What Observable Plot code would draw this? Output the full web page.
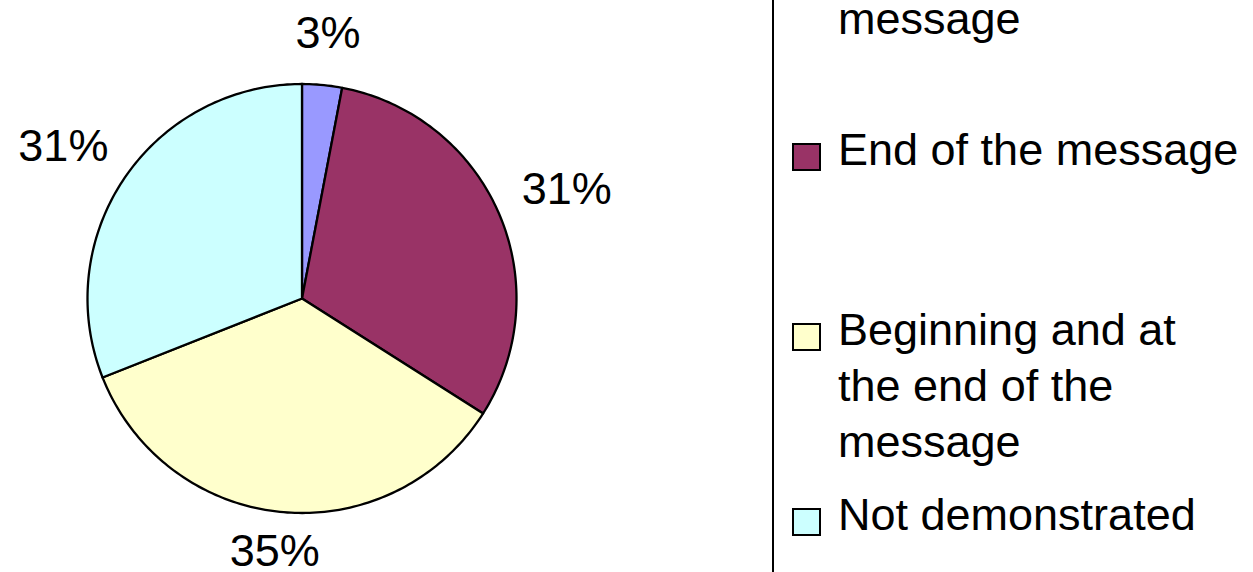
<!DOCTYPE html>
<html>
<head>
<meta charset="utf-8">
<script src="https://cdn.jsdelivr.net/npm/d3@7"></script>
<script src="https://cdn.jsdelivr.net/npm/@observablehq/plot@0.6"></script>
<style>
  html, body { margin: 0; padding: 0; background: #fff; }
  #wrap { display: flex; width: 1253px; height: 572px; overflow: hidden; font-family: "Liberation Sans", Arial, sans-serif; }
  #chart { width: 772px; height: 572px; flex: none; }
  #legend { position: relative; flex: none; width: 479px; height: 572px; border-left: 2px solid #000; overflow: hidden; }
  .sw { position: absolute; left: 18px; width: 29px; height: 28px; box-sizing: border-box; border: 2px solid #000; }
  .lt { position: absolute; left: 64px; width: 408px; font-size: 45px; line-height: 56px; color: #000; white-space: normal; }
</style>
</head>
<body>
<div id="wrap"><div id="chart"></div><div id="legend"></div></div>
<script>
// ---- data ----
const categories = ["Beginning of the message", "End of the message", "Beginning and at the end of the message", "Not demonstrated"];
const values = [3, 31, 35, 31];
const colors = ["#9999FF", "#993366", "#FFFFCC", "#CCFFFF"];

// ---- layout ----
const FONT = 45;
const R_PX = 214.5;
const CX = 301.5, CY = 298;
const legendBaselines = [35 - 56, 166, 346, 531]; // baseline of first line of each entry

// pie geometry from d3.pie (clockwise from 12 o'clock)
const arcs = d3.pie().sort(null).value(d => d.value)(categories.map((name, i) => ({name, value: values[i]})));
const slicePts = [];
for (const a of arcs) {
  const name = a.data.name;
  slicePts.push({name, x: 0, y: 0});
  const n = Math.max(2, Math.ceil((a.endAngle - a.startAngle) / (Math.PI / 180)));
  for (let k = 0; k <= n; k++) {
    const t = a.startAngle + (a.endAngle - a.startAngle) * k / n;
    slicePts.push({name, x: Math.sin(t), y: Math.cos(t)});
  }
}

// label positions (outside end)
const ctx = document.createElement("canvas").getContext("2d");
ctx.font = `${FONT}px "Liberation Sans", Arial, sans-serif`;
const GAP = 29, CAP = 33;
const labels = arcs.map(a => {
  const text = `${a.data.value}%`;
  const m = (a.startAngle + a.endAngle) / 2;
  const ux = Math.sin(m), uy = Math.cos(m);
  const w = ctx.measureText(text).width;
  const px = (R_PX + GAP) * ux + (w / 2) * ux;
  const py = (R_PX + GAP) * uy + (CAP / 2) * uy;
  return {text, x: px / R_PX, y: py / R_PX};
});

const plot = Plot.plot({
  width: 772,
  height: 572,
  margin: 0,
  x: {domain: [-1, 1], range: [CX - R_PX, CX + R_PX], axis: null},
  y: {domain: [-1, 1], range: [CY + R_PX, CY - R_PX], axis: null},
  color: {domain: categories, range: colors},
  style: {fontFamily: '"Liberation Sans", Arial, sans-serif', background: "#fff", overflow: "visible"},
  marks: [
    Plot.line(slicePts, {x: "x", y: "y", z: "name", fill: "name", stroke: "#000", strokeWidth: 2.3, strokeLinejoin: "round", curve: "linear-closed"}),
    Plot.text(labels, {x: "x", y: "y", dy: -6, text: "text", fontSize: FONT, fill: "#000", fontFamily: '"Liberation Sans", Arial, sans-serif'})
  ]
});
document.getElementById("chart").appendChild(plot);

// legend
const legend = document.getElementById("legend");
categories.forEach((name, i) => {
  const base = legendBaselines[i];
  const sw = document.createElement("div");
  sw.className = "sw";
  sw.style.top = (base - 23) + "px";
  sw.style.background = colors[i];
  legend.appendChild(sw);
  const lt = document.createElement("div");
  lt.className = "lt";
  lt.style.top = (base - 43.6) + "px";
  lt.textContent = name;
  legend.appendChild(lt);
});
</script>
</body>
</html>
